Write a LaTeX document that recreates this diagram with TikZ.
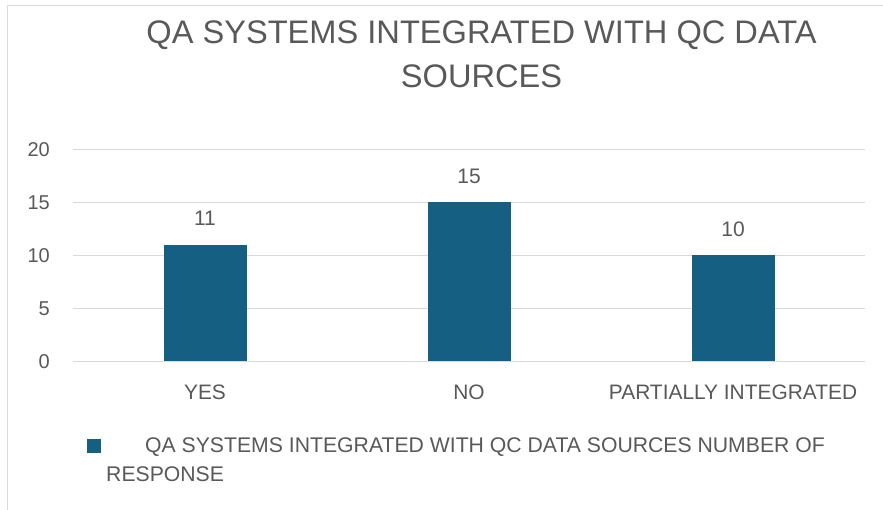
\documentclass[tikz,border=0pt]{standalone}
\usepackage{fontspec}
\setmainfont{Liberation Sans}
\definecolor{txtgrey}{HTML}{595959}
\definecolor{gridgrey}{HTML}{D9D9D9}
\definecolor{bordergrey}{HTML}{D9D9D9}
\definecolor{barblue}{HTML}{156082}
\tikzset{
  gridline/.style={draw=gridgrey, line width=1.4pt},
  bar/.style={fill=barblue, draw=none},
  ticklabel/.style={text=txtgrey, font=\fontsize{20}{24}\selectfont, inner sep=0pt, anchor=base east},
  datalabel/.style={text=txtgrey, font=\fontsize{21}{25}\selectfont, inner sep=0pt, anchor=base},
  catlabel/.style={text=txtgrey, font=\fontsize{20.9}{24}\selectfont, inner sep=0pt, anchor=base},
  titletext/.style={text=txtgrey, font=\fontsize{32.6}{38}\selectfont, inner sep=0pt, anchor=base},
  legendtext/.style={text=txtgrey, font=\fontsize{21.2}{25}\selectfont, inner sep=0pt, anchor=base west},
}
\begin{document}
\begin{tikzpicture}[x=1pt, y=-1pt]
\useasboundingbox (0,0) rectangle (883,510);
\fill[white] (0,0) rectangle (883,510);
% chart border (left and top visible)
\draw[draw=bordergrey, line width=1.5pt] (7.5,515) -- (7.5,5.5) -- (890,5.5);
% title
\node[titletext] (title1) at (481.5,44) {QA SYSTEMS INTEGRATED WITH QC DATA};
\node[titletext] (title2) at (481.5,88) {SOURCES};
% gridlines
\foreach \v/\nm in {0/g0,5/g5,10/g10,15/g15,20/g20}{
  \pgfmathsetmacro{\yy}{361.7-10.62*\v}
  \draw[gridline] (73,\yy) -- (865,\yy);
  \node[ticklabel] (t\nm) at (50,\yy+7) {\v};
}
% bars
\fill[bar] (163.5,361) rectangle (246.5,{361.7-10.62*11});
\fill[bar] (427.5,361) rectangle (510.5,{361.7-10.62*15});
\fill[bar] (691.5,361) rectangle (774.5,{361.7-10.62*10});
% data labels
\node[datalabel] (d1) at (205,{361.7-10.62*11-19}) {11};
\node[datalabel] (d2) at (469,{361.7-10.62*15-19}) {15};
\node[datalabel] (d3) at (733,{361.7-10.62*10-19}) {10};
% category labels
\node[catlabel] (c1) at (205,399) {YES};
\node[catlabel] (c2) at (469,399) {NO};
\node[catlabel] (c3) at (733,399) {PARTIALLY INTEGRATED};
% legend
\fill[barblue] (87,439) rectangle (101,453);
\node[legendtext] (leg1) at (145,452) {QA SYSTEMS INTEGRATED WITH QC DATA SOURCES NUMBER OF};
\node[legendtext] (leg2) at (106,481) {RESPONSE};
\end{tikzpicture}
\end{document}
